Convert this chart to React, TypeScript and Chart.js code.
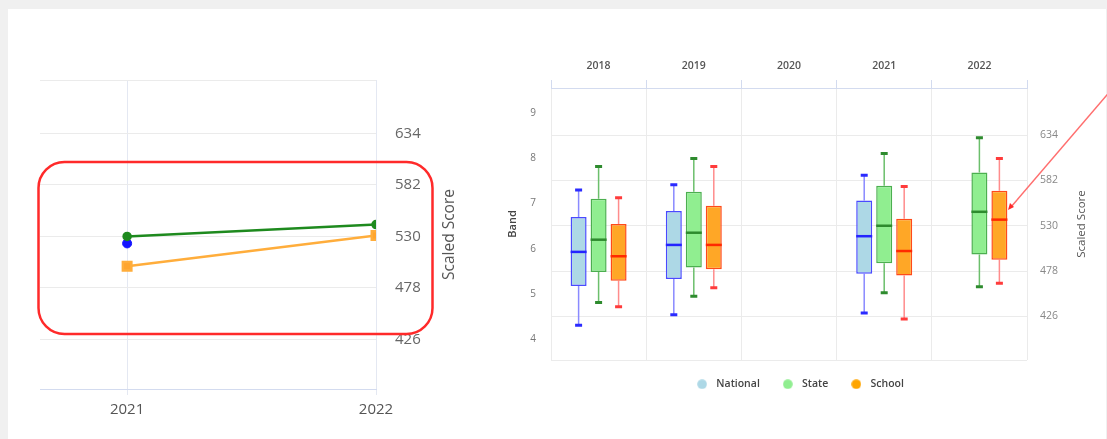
import React, { useEffect, useRef } from 'react';
import { Chart, registerables } from 'chart.js';

Chart.register(...registerables);

// ---------- Left chart (line) data ----------
const lineYears = [2021, 2022];
const lineNational = [523, null];
const lineState = [530, 542];
const lineSchool = [500, 531];

// ---------- Shared score axis ----------
const scoreMin = 376;
const scoreMax = 688;
const scoreTicks = [376, 426, 478, 530, 582, 634, 688];
const scoreLabels = [426, 478, 530, 582, 634];

// ---------- Right chart (box plot) data ----------
const boxYears = ['2018', '2019', '2020', '2021', '2022'];
const bandTicks = [4, 5, 6, 7, 8, 9];
// [min, q1, median, q3, max]
const nationalBox = [
  [416, 461, 500, 540, 571],
  [428, 469, 508, 547, 577],
  null,
  [430, 475, 518, 559, 588],
  null,
];
const stateBox = [
  [442, 477, 514, 561, 598],
  [449, 482, 522, 569, 607],
  null,
  [453, 487, 530, 576, 613],
  [460, 497, 546, 591, 631],
];
const schoolBox = [
  [437, 467, 495, 532, 562],
  [459, 480, 508, 553, 598],
  null,
  [423, 473, 501, 538, 575],
  [464, 491, 537, 570, 607],
];
const seriesNames = ['National', 'State', 'School'];
const legendColors = ['#add8e6', '#90ee90', '#ffa500'];

const FONT = "'Open Sans', 'Noto Sans', sans-serif";

function dot(color: string) {
  const c = document.createElement('canvas');
  c.width = 10;
  c.height = 10;
  const g = c.getContext('2d') as CanvasRenderingContext2D;
  g.fillStyle = color;
  g.beginPath();
  g.arc(5, 5, 4.8, 0, Math.PI * 2);
  g.fill();
  return c;
}

function upTitle(id: string, text: string, offsetRight: number, size: number, color: string, weight = 'normal') {
  return {
    id,
    afterDraw(chart: any) {
      const { ctx, chartArea, width } = chart;
      ctx.save();
      ctx.translate(width - offsetRight, (chartArea.top + chartArea.bottom) / 2);
      ctx.rotate(-Math.PI / 2);
      ctx.font = `${weight} ${size}px ${FONT}`;
      ctx.fillStyle = color;
      ctx.textAlign = 'center';
      ctx.textBaseline = 'middle';
      ctx.fillText(text, 0, 0);
      ctx.restore();
    },
  };
}

const boxPlugin = {
  id: 'boxWhiskers',
  beforeDatasetsDraw(chart: any) {
    const ctx = chart.ctx;
    chart.data.datasets.forEach((ds: any, i: number) => {
      const meta = chart.getDatasetMeta(i);
      const ys = chart.scales[meta.yAxisID];
      (ds.stats || []).forEach((s: number[] | null, j: number) => {
        if (!s) return;
        const el = meta.data[j];
        if (!el) return;
        const x = el.x;
        const pMin = ys.getPixelForValue(s[0]);
        const pQ1 = ys.getPixelForValue(s[1]);
        const pQ3 = ys.getPixelForValue(s[3]);
        const pMax = ys.getPixelForValue(s[4]);
        ctx.save();
        ctx.strokeStyle = ds.whiskerColor;
        ctx.lineWidth = 1.5;
        ctx.beginPath();
        ctx.moveTo(x, pQ1);
        ctx.lineTo(x, pMin);
        ctx.moveTo(x, pQ3);
        ctx.lineTo(x, pMax);
        ctx.stroke();
        ctx.strokeStyle = ds.capColor;
        ctx.lineWidth = 3;
        ctx.beginPath();
        ctx.moveTo(x - 3.5, pMin);
        ctx.lineTo(x + 3.5, pMin);
        ctx.moveTo(x - 3.5, pMax);
        ctx.lineTo(x + 3.5, pMax);
        ctx.stroke();
        ctx.restore();
      });
    });
  },
  afterDatasetsDraw(chart: any) {
    const ctx = chart.ctx;
    chart.data.datasets.forEach((ds: any, i: number) => {
      const meta = chart.getDatasetMeta(i);
      const ys = chart.scales[meta.yAxisID];
      (ds.stats || []).forEach((s: number[] | null, j: number) => {
        if (!s) return;
        const el = meta.data[j];
        if (!el) return;
        const pMed = ys.getPixelForValue(s[2]);
        const half = el.width / 2;
        ctx.save();
        ctx.strokeStyle = ds.medianColor;
        ctx.lineWidth = 2.5;
        ctx.beginPath();
        ctx.moveTo(el.x - half, pMed);
        ctx.lineTo(el.x + half, pMed);
        ctx.stroke();
        ctx.restore();
      });
    });
  },
};

export default function App() {
  const leftRef = useRef<HTMLCanvasElement>(null);
  const rightRef = useRef<HTMLCanvasElement>(null);

  useEffect(() => {
    document.body.style.margin = '0';
    Chart.defaults.font.family = FONT;

    const left = new Chart(leftRef.current as HTMLCanvasElement, {
      type: 'line',
      data: {
        datasets: [
          {
            label: 'State',
            data: lineYears.map((x, i) => ({ x, y: lineState[i] })),
            borderColor: '#1e8a1e',
            backgroundColor: '#1e8a1e',
            borderWidth: 2.5,
            pointRadius: 3.5,
            pointStyle: 'circle',
          },
          {
            label: 'School',
            data: lineYears.map((x, i) => ({ x, y: lineSchool[i] })),
            borderColor: '#ffad3b',
            backgroundColor: '#ffa52e',
            borderWidth: 2.5,
            pointRadius: 6,
            pointStyle: 'rect',
          },
          {
            label: 'National',
            data: lineYears.map((x, i) => ({ x, y: lineNational[i] })),
            borderColor: '#1414ff',
            backgroundColor: '#1414ff',
            showLine: false,
            pointRadius: 4.5,
          },
        ] as any,
      },
      options: {
        animation: false,
        responsive: false,
        layout: { padding: { left: 40, top: 80, right: 0, bottom: 0 } },
        plugins: { legend: { display: false }, tooltip: { enabled: false } },
        scales: {
          x: {
            type: 'linear',
            min: 2020.65,
            max: 2022,
            afterBuildTicks: (s: any) => {
              s.ticks = lineYears.map((v) => ({ value: v }));
            },
            afterFit: (s: any) => {
              s.height = 50;
            },
            grid: { color: '#e4e8f2', tickLength: 6 },
            border: { color: '#d3dbef' },
            ticks: { padding: 6, font: { size: 15 }, color: '#555', callback: (v: any) => String(v) },
          },
          y: {
            position: 'right',
            min: scoreMin,
            max: scoreMax,
            afterBuildTicks: (s: any) => {
              s.ticks = scoreTicks.map((v) => ({ value: v }));
            },
            afterFit: (s: any) => {
              s.width = 104;
            },
            grid: { color: '#ebebeb', drawTicks: false },
            border: { display: false },
            ticks: {
              padding: 19,
              font: { size: 15 },
              color: '#666',
              callback: (v: any) => (scoreLabels.includes(v) ? String(v) : ''),
            },
          },
        },
      } as any,
      plugins: [upTitle('leftTitle', 'Scaled Score', 30, 15.5, '#555')],
    });

    const makeBoxDs = (name: string, stats: (number[] | null)[], fill: string, border: string, median: string, whisker: string, cap: string) => ({
      label: name,
      data: stats.map((s) => (s ? [s[1], s[3]] : null)),
      stats,
      backgroundColor: fill,
      borderColor: border,
      borderWidth: 1.5,
      borderSkipped: false,
      medianColor: median,
      whiskerColor: whisker,
      capColor: cap,
      yAxisID: 'y2',
      categoryPercentage: 0.63,
      barPercentage: 0.8,
    });

    const dots = legendColors.map(dot);

    const right = new Chart(rightRef.current as HTMLCanvasElement, {
      type: 'bar',
      data: {
        labels: boxYears,
        datasets: [
          makeBoxDs(seriesNames[0], nationalBox, '#add8e6', '#4a4aff', '#2424ff', '#8a8aff', '#2b2bff'),
          makeBoxDs(seriesNames[1], stateBox, '#90ee90', '#4caf50', '#2e8b2e', '#6cbf6c', '#2e8b2e'),
          makeBoxDs(seriesNames[2], schoolBox, '#ffa726', '#ff4a1a', '#ff2a00', '#ff8c8c', '#ff3b3b'),
        ] as any,
      },
      options: {
        animation: false,
        responsive: false,
        layout: { padding: { left: 0, top: 60, right: 0, bottom: 39.5 } },
        plugins: {
          tooltip: { enabled: false },
          legend: {
            position: 'bottom',
            labels: {
              usePointStyle: true,
              pointStyleWidth: 18,
              boxHeight: 10.5,
              padding: 19,
              color: '#444',
              font: { size: 10.5, weight: '600' },
              generateLabels: () =>
                seriesNames.map((n, i) => ({
                  text: n,
                  fillStyle: legendColors[i],
                  strokeStyle: legendColors[i],
                  lineWidth: 0,
                  pointStyle: dots[i],
                  hidden: false,
                  datasetIndex: i,
                  fontColor: '#444',
                })),
            },
          },
        },
        scales: {
          x: {
            position: 'top',
            afterFit: (s: any) => {
              s.height = 28;
            },
            grid: { color: '#ebebeb', tickColor: '#d3dbef', tickLength: 8 },
            border: { color: '#d3dbef' },
            ticks: { padding: 8, font: { size: 10.5, weight: '600' }, color: '#555' },
          },
          y: {
            position: 'left',
            min: 3.55,
            max: 9.55,
            afterBuildTicks: (s: any) => {
              s.ticks = bandTicks.map((v) => ({ value: v }));
            },
            afterFit: (s: any) => {
              s.width = 61;
            },
            grid: { display: false, drawTicks: false },
            border: { display: false },
            title: { display: true, text: 'Band', font: { size: 11, weight: '600' }, color: '#444', padding: 16 },
            ticks: { padding: 15, font: { size: 10 }, color: '#777' },
          },
          y2: {
            position: 'right',
            min: scoreMin,
            max: scoreMax,
            afterBuildTicks: (s: any) => {
              s.ticks = scoreTicks.map((v) => ({ value: v }));
            },
            afterFit: (s: any) => {
              s.width = 80;
            },
            grid: { color: '#ebebeb', drawTicks: false },
            border: { display: false },
            ticks: {
              padding: 13,
              font: { size: 10.5 },
              color: '#888',
              callback: (v: any) => (scoreLabels.includes(v) ? String(v) : ''),
            },
          },
        },
      } as any,
      plugins: [boxPlugin, upTitle('rightTitle', 'Scaled Score', 25, 11.5, '#555')],
    });

    return () => {
      left.destroy();
      right.destroy();
    };
  }, []);

  return (
    <div style={{ position: 'relative', width: 1107, height: 439, background: '#f0f0f0', overflow: 'hidden' }}>
      <div style={{ position: 'absolute', left: 8, top: 9, width: 1098, height: 430, background: '#ffffff' }} />
      <canvas ref={leftRef} width={480} height={439} style={{ position: 'absolute', left: 0, top: 0, width: 480, height: 439 }} />
      <canvas ref={rightRef} width={617} height={439} style={{ position: 'absolute', left: 490, top: 0, width: 617, height: 439 }} />
      <svg width={1107} height={439} style={{ position: 'absolute', left: 0, top: 0, pointerEvents: 'none' }}>
        <rect x={38.5} y={162} width={394} height={172} rx={26} ry={26} fill="none" stroke="#ff2a2a" strokeWidth={2.5} />
        <line x1={1011} y1={207} x2={1130} y2={68} stroke="#ff6e6e" strokeWidth={1.5} />
        <polygon points="1008,210 1014,207 1010,203" fill="#ff2a2a" />
      </svg>
    </div>
  );
}
